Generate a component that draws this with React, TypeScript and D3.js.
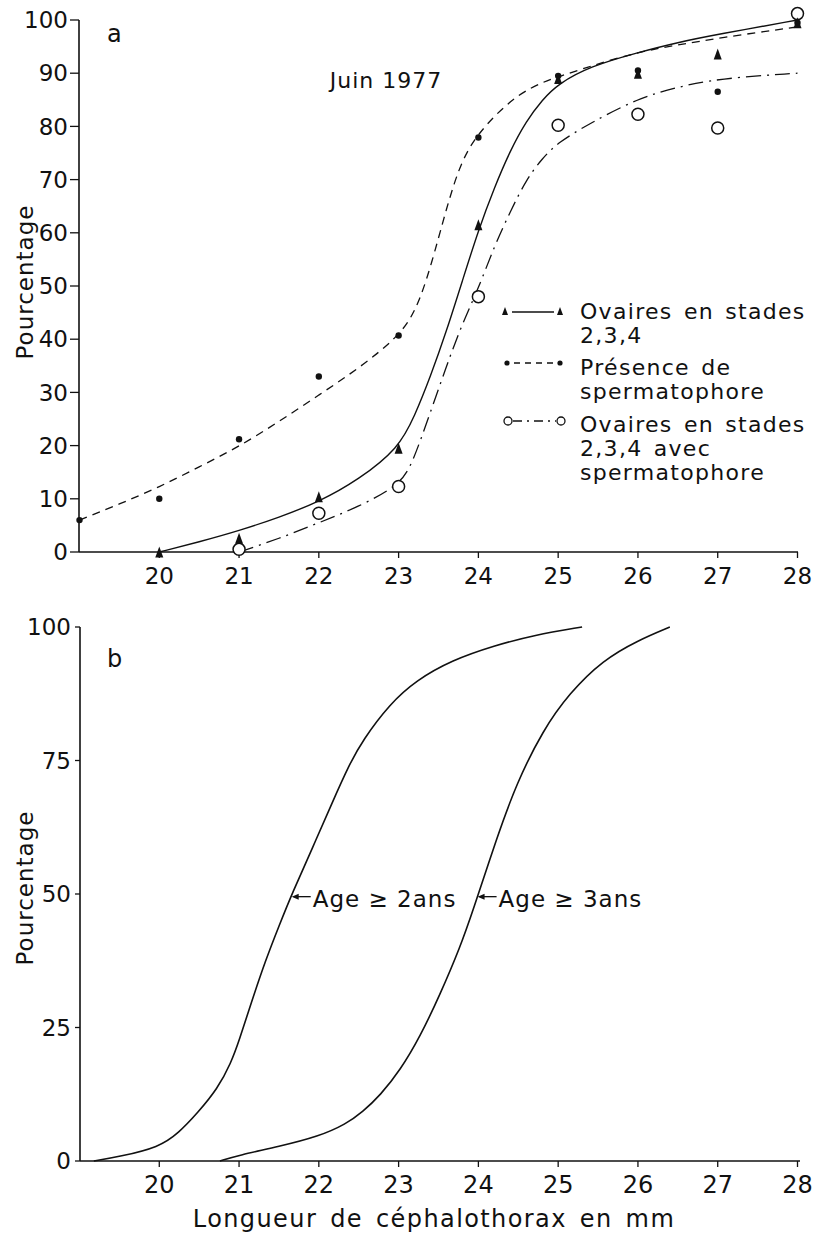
import React from "react";
import * as d3 from "d3";

// ---------- DATA ----------
const xTicks = [20, 21, 22, 23, 24, 25, 26, 27, 28];
const yTicksA = [0, 10, 20, 30, 40, 50, 60, 70, 80, 90, 100];
const yTicksB = [0, 25, 50, 75, 100];

// Panel a: observed points
const triX = [20, 21, 22, 23, 24, 25, 26, 27, 28];
const triY = [0, 2.6, 10.4, 19.5, 61.5, 89, 90, 93.6, 99.5];
const dotX = [19, 20, 21, 22, 23, 24, 25, 26, 27, 28];
const dotY = [6, 10, 21.2, 33, 40.7, 77.9, 89.5, 90.5, 86.5, 99.5];
const circX = [21, 22, 23, 24, 25, 26, 27, 28];
const circY = [0.5, 7.3, 12.3, 48, 80.2, 82.3, 79.7, 101.2];

// Panel a: fitted curves
const solidX = [20, 20.5, 21, 21.5, 22, 22.5, 23, 23.2, 23.4, 23.6, 23.8, 24, 24.2, 24.4, 24.6, 24.8, 25, 25.4, 26, 26.5, 27, 28];
const solidY = [0, 1.9, 4, 6.5, 9.4, 13.6, 19.5, 25.5, 33, 41.5, 51, 60.5, 68.5, 75.5, 81, 85, 88, 91.3, 93.9, 95.8, 97.3, 100];
const dashX = [19, 19.5, 20, 20.5, 21, 21.5, 22, 22.5, 23, 23.2, 23.35, 23.5, 23.6, 23.7, 23.8, 23.9, 24, 24.2, 24.5, 24.8, 25, 25.4, 26, 26.5, 27, 28];
const dashY = [6, 9, 12.2, 16, 19.8, 24.5, 29.5, 34.5, 40.5, 45, 51, 59, 64.5, 69.5, 73.5, 76.3, 78.5, 82, 86, 88.3, 89.3, 91.3, 94, 95.3, 96.6, 98.7];
const dashDotX = [21, 21.5, 22, 22.5, 23, 23.15, 23.3, 23.6, 23.8, 24, 24.2, 24.4, 24.6, 24.8, 25, 25.4, 26, 26.5, 27, 28];
const dashDotY = [0, 2.5, 5.5, 8.5, 12.5, 16, 22, 35, 43, 49.5, 57.5, 64, 70, 74, 77, 80.6, 85.3, 87.4, 89, 90];

// Panel b: curves
const age2X = [19.18, 19.5, 20, 20.24, 20.48, 20.73, 20.9, 21, 21.15, 21.33, 21.5, 21.67, 21.92, 22.17, 22.38, 22.55, 22.89, 23.22, 23.67, 24.2, 24.7, 25.3];
const age2Y = [0, 0.8, 2.6, 5.2, 9, 13.5, 18.4, 22.5, 29.5, 37.5, 44, 50.3, 58.6, 67.2, 74.2, 78.8, 85.6, 90, 93.8, 96.5, 98.5, 100];
const age3X = [20.76, 21, 21.5, 22, 22.34, 22.55, 22.77, 23.02, 23.27, 23.52, 23.77, 23.93, 24.23, 24.48, 24.81, 25.14, 25.56, 26, 26.4];
const age3Y = [0, 1.1, 2.7, 4.6, 6.9, 9.2, 12.3, 17, 23.3, 31.2, 40, 46.8, 60.5, 70.8, 80.7, 87.6, 93.8, 97.5, 100];

// Annotations of panel b (arrow tips, data coords)
const ageLabels = ["Age \u2265 2ans", "Age \u2265 3ans"];
const ageTipX = [21.66, 23.99];
const ageTipY = [49.5, 49.5];

// Legend texts
const legendLines = [
  ["Ovaires en stades", "2,3,4"],
  ["Présence de", "spermatophore"],
  ["Ovaires en stades", "2,3,4 avec", "spermatophore"],
];

const FONT = "'DejaVu Sans', sans-serif";

export default function App() {
  const W = 814, H = 1234;
  const x = d3.scaleLinear().domain([19, 28]).range([79.5, 797.5]);
  const yA = d3.scaleLinear().domain([0, 100]).range([552, 20]);
  const yB = d3.scaleLinear().domain([0, 100]).range([1161, 627]);

  const mk = (xs: number[], ys: number[], ys2: d3.ScaleLinear<number, number>) =>
    d3.line<number>().x((_, i) => x(xs[i])).y((_, i) => ys2(ys[i])).curve(d3.curveBasis)(xs.map((v) => v)) || "";

  const triPath = (cx: number, cy: number, h: number, w: number) =>
    `M${cx},${cy - h / 2}L${cx + w / 2},${cy + h / 2}L${cx - w / 2},${cy + h / 2}Z`;

  const txt = { fontFamily: FONT, fill: "#111" } as const;

  const legendBaseY = [311, 367, 424];
  const legendLineH = 24;

  return (
    <svg width={W} height={H} style={{ position: "absolute", left: 0, top: 0, background: "#fff" }}>
      <rect x={0} y={0} width={W} height={H} fill="#fff" />
      {/* ============ PANEL A ============ */}
      <g>
        <line x1={79} x2={79} y1={yA(100)} y2={yA(0)} stroke="#111" strokeWidth={1.6} />
        <line x1={79} x2={798} y1={yA(0)} y2={yA(0)} stroke="#111" strokeWidth={1.6} />
        {yTicksA.map((t) => (
          <g key={"ya" + t}>
            <line x1={70} x2={79} y1={yA(t)} y2={yA(t)} stroke="#111" strokeWidth={1.3} />
            <text x={68} y={yA(t)} dy="0.36em" textAnchor="end" fontSize={23} style={txt}>{t}</text>
          </g>
        ))}
        {xTicks.map((t) => (
          <g key={"xa" + t}>
            <line x1={x(t)} x2={x(t)} y1={yA(0)} y2={yA(0) + 6} stroke="#111" strokeWidth={1.3} />
            <text x={x(t)} y={576} dy="0.36em" textAnchor="middle" fontSize={23} style={txt}>{t}</text>
          </g>
        ))}
        <text transform={`translate(25,282) rotate(-90)`} textAnchor="middle" dy="0.36em" fontSize={23} letterSpacing={1} style={txt}>Pourcentage</text>
        <text x={107} y={33} dy="0.36em" fontSize={24} style={txt}>a</text>
        <text x={386} y={80} dy="0.36em" textAnchor="middle" fontSize={22} letterSpacing={1} style={txt}>Juin 1977</text>

        {/* curves */}
        <path d={mk(dashX, dashY, yA)} fill="none" stroke="#111" strokeWidth={1.3} strokeDasharray="8,6" />
        <path d={mk(solidX, solidY, yA)} fill="none" stroke="#111" strokeWidth={1.4} />
        <path d={mk(dashDotX, dashDotY, yA)} fill="none" stroke="#111" strokeWidth={1.3} strokeDasharray="15,6,2,6" />

        {/* points */}
        {circX.map((v, i) => (
          <circle key={"c" + i} cx={x(v)} cy={yA(circY[i])} r={6} fill="#fff" stroke="#111" strokeWidth={1.5} />
        ))}
        {dotX.map((v, i) => (
          <circle key={"d" + i} cx={x(v)} cy={yA(dotY[i])} r={3.2} fill="#111" />
        ))}
        {triX.map((v, i) => (
          <path key={"t" + i} d={triPath(x(v), yA(triY[i]), 11, 8)} fill="#111" />
        ))}

        {/* legend */}
        <g>
          <path d={triPath(505, legendBaseY[0], 8, 6)} fill="#111" />
          <line x1={512} x2={554} y1={legendBaseY[0] + 1} y2={legendBaseY[0] + 1} stroke="#111" strokeWidth={1.4} />
          <path d={triPath(560, legendBaseY[0], 8, 6)} fill="#111" />

          <circle cx={507} cy={363} r={2.6} fill="#111" />
          <line x1={514} x2={554} y1={363} y2={363} stroke="#111" strokeWidth={1.3} strokeDasharray="6,5" />
          <circle cx={560} cy={363} r={2.6} fill="#111" />

          <circle cx={508} cy={421} r={4} fill="#fff" stroke="#111" strokeWidth={1.3} />
          <line x1={513} x2={556} y1={421} y2={421} stroke="#111" strokeWidth={1.3} strokeDasharray="9,5,2,5" />
          <circle cx={561} cy={421} r={4} fill="#fff" stroke="#111" strokeWidth={1.3} />

          {legendLines.map((lines, k) =>
            lines.map((s, j) => (
              <text key={"lg" + k + j} x={580} y={legendBaseY[k] + j * legendLineH} dy="0.36em" fontSize={22} letterSpacing={1.3} wordSpacing={3} style={txt}>{s}</text>
            ))
          )}
        </g>
      </g>

      {/* ============ PANEL B ============ */}
      <g>
        <line x1={80} x2={80} y1={yB(100)} y2={yB(0)} stroke="#111" strokeWidth={1.6} />
        <line x1={80} x2={800} y1={yB(0)} y2={yB(0)} stroke="#111" strokeWidth={1.6} />
        {yTicksB.map((t) => (
          <g key={"yb" + t}>
            <line x1={75} x2={80} y1={yB(t)} y2={yB(t)} stroke="#111" strokeWidth={1.3} />
            <text x={71} y={yB(t)} dy="0.36em" textAnchor="end" fontSize={23} style={txt}>{t}</text>
          </g>
        ))}
        {xTicks.map((t) => (
          <g key={"xb" + t}>
            <line x1={x(t)} x2={x(t)} y1={yB(0)} y2={yB(0) + 6} stroke="#111" strokeWidth={1.3} />
            <text x={x(t)} y={1184} dy="0.36em" textAnchor="middle" fontSize={24} style={txt}>{t}</text>
          </g>
        ))}
        <text transform={`translate(25,888) rotate(-90)`} textAnchor="middle" dy="0.36em" fontSize={23} letterSpacing={1} style={txt}>Pourcentage</text>
        <text x={107} y={658} dy="0.36em" fontSize={24} style={txt}>b</text>
        <text x={434} y={1218} dy="0.36em" textAnchor="middle" fontSize={24} letterSpacing={1.4} wordSpacing={4} style={txt}>Longueur de céphalothorax en mm</text>

        <path d={mk(age2X, age2Y, yB)} fill="none" stroke="#111" strokeWidth={1.6} />
        <path d={mk(age3X, age3Y, yB)} fill="none" stroke="#111" strokeWidth={1.6} />

        {ageLabels.map((s, i) => {
          const tx = x(ageTipX[i]);
          const ty = yB(ageTipY[i]);
          return (
            <g key={"age" + i}>
              <line x1={tx + 2} x2={tx + 19} y1={ty} y2={ty} stroke="#111" strokeWidth={1.3} />
              <path d={`M${tx},${ty}L${tx + 7},${ty - 3}L${tx + 7},${ty + 3}Z`} fill="#111" />
              <text x={tx + 21} y={ty + 2} dy="0.36em" fontSize={23} letterSpacing={1} style={txt}>{s}</text>
            </g>
          );
        })}
      </g>
    </svg>
  );
}
